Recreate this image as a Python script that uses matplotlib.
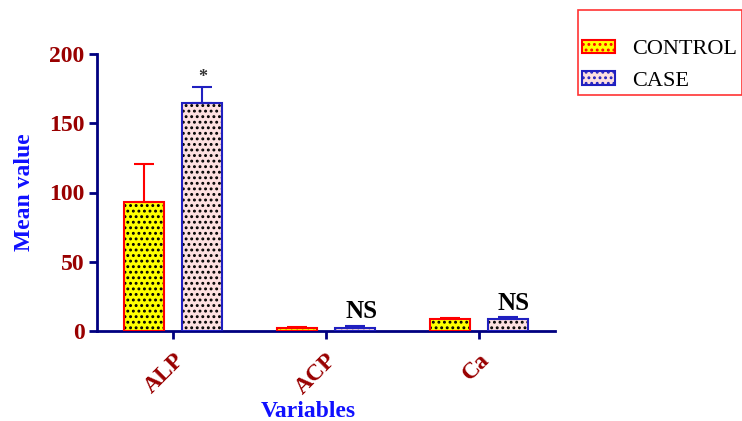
import numpy as np
import matplotlib.pyplot as plt
from matplotlib.patches import Patch

plt.rcParams['font.family'] = ['Liberation Serif', 'DejaVu Serif']
plt.rcParams['hatch.linewidth'] = 1.3

variables = ["ALP", "ACP", "Ca"]
control_mean = [93, 2.0, 8.7]
control_err = [27.5, 1.0, 0.8]
case_mean = [164.5, 2.5, 9.0]
case_err = [11.5, 1.0, 0.9]
marks = ["*", "NS", "NS"]

navy = "#000080"
darkred = "#990000"

fig = plt.figure(figsize=(7.42, 4.21), dpi=100)
ax = fig.add_axes([97/742, 1-331/421, (555-97)/742, (331-54)/421])

x = np.arange(len(variables))
w = 0.26
off = 0.19

# fill + hatch first, then the outline on top
ax.bar(x - off, control_mean, w, color="yellow", edgecolor="black", hatch="...", linewidth=0, zorder=2)
ax.bar(x - off, control_mean, w, fill=False, edgecolor="red", linewidth=1.5, zorder=3)
ax.errorbar(x - off, control_mean, yerr=[np.zeros(3), control_err], fmt="none",
            ecolor="red", elinewidth=1.5, capsize=7, capthick=1.5, zorder=3)

ax.bar(x + off, case_mean, w, color="#fde0e0", edgecolor="black", hatch="...", linewidth=0, zorder=2)
ax.bar(x + off, case_mean, w, fill=False, edgecolor="#2020c0", linewidth=1.5, zorder=3)
ax.errorbar(x + off, case_mean, yerr=[np.zeros(3), case_err], fmt="none",
            ecolor="#2020c0", elinewidth=1.5, capsize=7, capthick=1.5, zorder=3)

for i in range(len(variables)):
    top = case_mean[i] + case_err[i]
    if marks[i] == "*":
        ax.text(x[i] + off, top + 1, marks[i], ha="center", va="bottom",
                fontsize=13, fontweight="bold", color="#333333")
    else:
        ax.text(x[i] + off + 0.04, top + 2, marks[i], ha="center", va="bottom",
                fontsize=18, fontweight="bold", color="black")

ax.set_xlim(-0.5, 2.5)
ax.set_ylim(0, 200)
ax.set_yticks([0, 50, 100, 150, 200])
ax.set_xticks(x)
ax.set_xticklabels(variables, rotation=45, ha="right", rotation_mode="anchor")

for s in ["top", "right"]:
    ax.spines[s].set_visible(False)
for s in ["left", "bottom"]:
    ax.spines[s].set_color(navy)
    ax.spines[s].set_linewidth(2)
ax.tick_params(axis="both", colors=navy, width=2, length=6, direction="out")
ax.tick_params(axis="x", pad=7)
ax.tick_params(axis="y", pad=3)
for lab in ax.get_xticklabels() + ax.get_yticklabels():
    lab.set_color(darkred)
    lab.set_fontweight("bold")
    lab.set_fontsize(17)

ax.set_ylabel("Mean value", color="#1010ff", fontweight="bold", fontsize=17)
ax.yaxis.set_label_coords(-(97-35)/(555-97), 0.5)
ax.set_xlabel("Variables", color="#1010ff", fontweight="bold", fontsize=17)
ax.xaxis.set_label_coords((308-97)/(555-97), -(401-331)/(331-54), transform=ax.transAxes)

handles = [Patch(facecolor="yellow", edgecolor="red", hatch="...", label="CONTROL"),
           Patch(facecolor="#fde0e0", edgecolor="#2020c0", hatch="...", label="CASE")]
leg = fig.legend(handles=handles, loc="upper left", bbox_to_anchor=(578/742, 1-10/421),
                 title=" ", title_fontsize=11, fontsize=16, frameon=True, fancybox=False,
                 handlelength=1.45, handleheight=0.55, handletextpad=0.8,
                 borderpad=0.2, labelspacing=0.55, borderaxespad=0)
leg.get_frame().set_edgecolor("red")
leg.get_frame().set_linewidth(1.2)
for h in leg.legend_handles:
    h.set_linewidth(1.5)

fig.savefig("out.png", dpi=100)
